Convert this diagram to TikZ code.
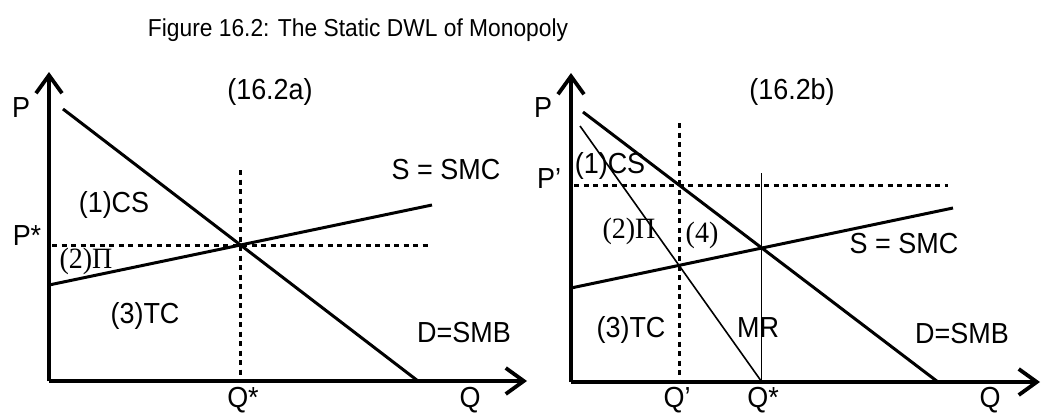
\documentclass[tikz,border=0pt]{standalone}
\usepackage{fontspec}
\setmainfont{Liberation Sans}
\newfontfamily\lblfont[FakeStretch=0.93]{Liberation Sans}
\newfontfamily\ttlfont[FakeStretch=0.93]{Liberation Sans}
\newfontfamily\serifgr[FakeStretch=0.95]{Liberation Serif}
\usetikzlibrary{arrows.meta}
\tikzset{
  axis/.style={line width=3.8pt,-{Straight Barb[length=18pt,width=26pt,line width=3.8pt]}},
  curve/.style={line width=3pt},
  thincurve/.style={line width=1.6pt},
  hair/.style={line width=1pt},
  dotline/.style={line width=3pt,dash pattern=on 5pt off 4.5pt},
  lbl/.style={anchor=base,inner sep=0pt,font=\fontsize{29}{32}\selectfont\lblfont},
  slbl/.style={anchor=base,inner sep=0pt,font=\fontsize{29.5}{32}\selectfont\serifgr},
  ttl/.style={anchor=base,inner sep=0pt,font=\fontsize{24.5}{28}\selectfont\ttlfont}
}
\begin{document}
\begin{tikzpicture}[x=1pt,y=-1pt]
\useasboundingbox (0,0) rectangle (1041,415);
\node[ttl] (title) at (358,36) {Figure 16.2: The Static DWL of Monopoly};
% ---------- panel a ----------
\coordinate (Oa) at (49,381);
\coordinate (Ya) at (49,72);
\coordinate (Xa) at (527,381);
\coordinate (Da1) at (63,109);
\coordinate (Da2) at (418,381);
\coordinate (Sa1) at (49,285);
\coordinate (Sa2) at (432,205);
\coordinate (Ea) at (intersection of Da1--Da2 and Sa1--Sa2);
\coordinate (PaL) at (52,0 |- Ea);
\coordinate (PaR) at (428,0 |- Ea);
\coordinate (QaT) at (Ea |- 0,170);
\coordinate (QaB) at (Ea |- Oa);
\draw[dotline] (PaL) -- (PaR);
\draw[dotline] (QaT) -- (QaB);
\draw[curve] (Da1) -- (Da2);
\draw[curve] (Sa1) -- (Sa2);
\draw[axis] (Oa) -- (Ya);
\draw[axis] (Oa) -- (Xa);
\node[lbl] (capa) at (270,99) {(16.2a)};
\node[lbl] (pa) at (21,117) {P};
\node[lbl] (psa) at (27,245) {P*};
\node[lbl] (csa) at (114,212) {(1)CS};
\node[slbl] (pia) at (86,268) {(2)Π};
\node[lbl] (tca) at (145,323) {(3)TC};
\node[lbl] (sa) at (446,179) {S = SMC};
\node[lbl] (da) at (464,342) {D=SMB};
\node[lbl] (qsa) at (243,407) {Q*};
\node[lbl] (qa) at (470,407) {Q};
% ---------- panel b ----------
\coordinate (Ob) at (571,382);
\coordinate (Yb) at (571,73);
\coordinate (Xb) at (1040,382);
\coordinate (Db1) at (583,112);
\coordinate (Db2) at (938,382);
\coordinate (Sb1) at (571,288);
\coordinate (Sb2) at (953,208);
\coordinate (Mb1) at (580,126);
\coordinate (Eb) at (intersection of Db1--Db2 and Sb1--Sb2);
\coordinate (Mb2) at (Eb |- Ob);
\coordinate (Fb) at (intersection of Mb1--Mb2 and Sb1--Sb2);
\coordinate (QpT) at (Fb |- 0,123);
\coordinate (QpB) at (Fb |- Ob);
\coordinate (Gb) at (intersection of Db1--Db2 and QpT--QpB);
\coordinate (PpL) at (574,0 |- Gb);
\coordinate (PpR) at (948,0 |- Gb);
\coordinate (VT) at (Eb |- 0,173);
\draw[dotline] (PpL) -- (PpR);
\draw[dotline] (QpT) -- (QpB);
\draw[hair] (VT) -- (Mb2);
\draw[thincurve] (Mb1) -- (Mb2);
\draw[curve] (Db1) -- (Db2);
\draw[curve] (Sb1) -- (Sb2);
\draw[axis] (Ob) -- (Yb);
\draw[axis] (Ob) -- (Xb);
\node[lbl] (capb) at (792,99) {(16.2b)};
\node[lbl] (pb) at (543,117) {P};
\node[lbl] (ppb) at (549,188) {P’};
\node[lbl] (csb) at (610,173) {(1)CS};
\node[slbl] (pib) at (629,238) {(2)Π};
\node[slbl] (fourb) at (702,242) {(4)};
\node[lbl] (tcb) at (631,337) {(3)TC};
\node[lbl] (mrb) at (758,337) {MR};
\node[lbl] (sb) at (904,253) {S = SMC};
\node[lbl] (db) at (962,343) {D=SMB};
\node[lbl] (qpb) at (677,407) {Q’};
\node[lbl] (qsb) at (763,407) {Q*};
\node[lbl] (qb) at (990,407) {Q};
\end{tikzpicture}
\end{document}
